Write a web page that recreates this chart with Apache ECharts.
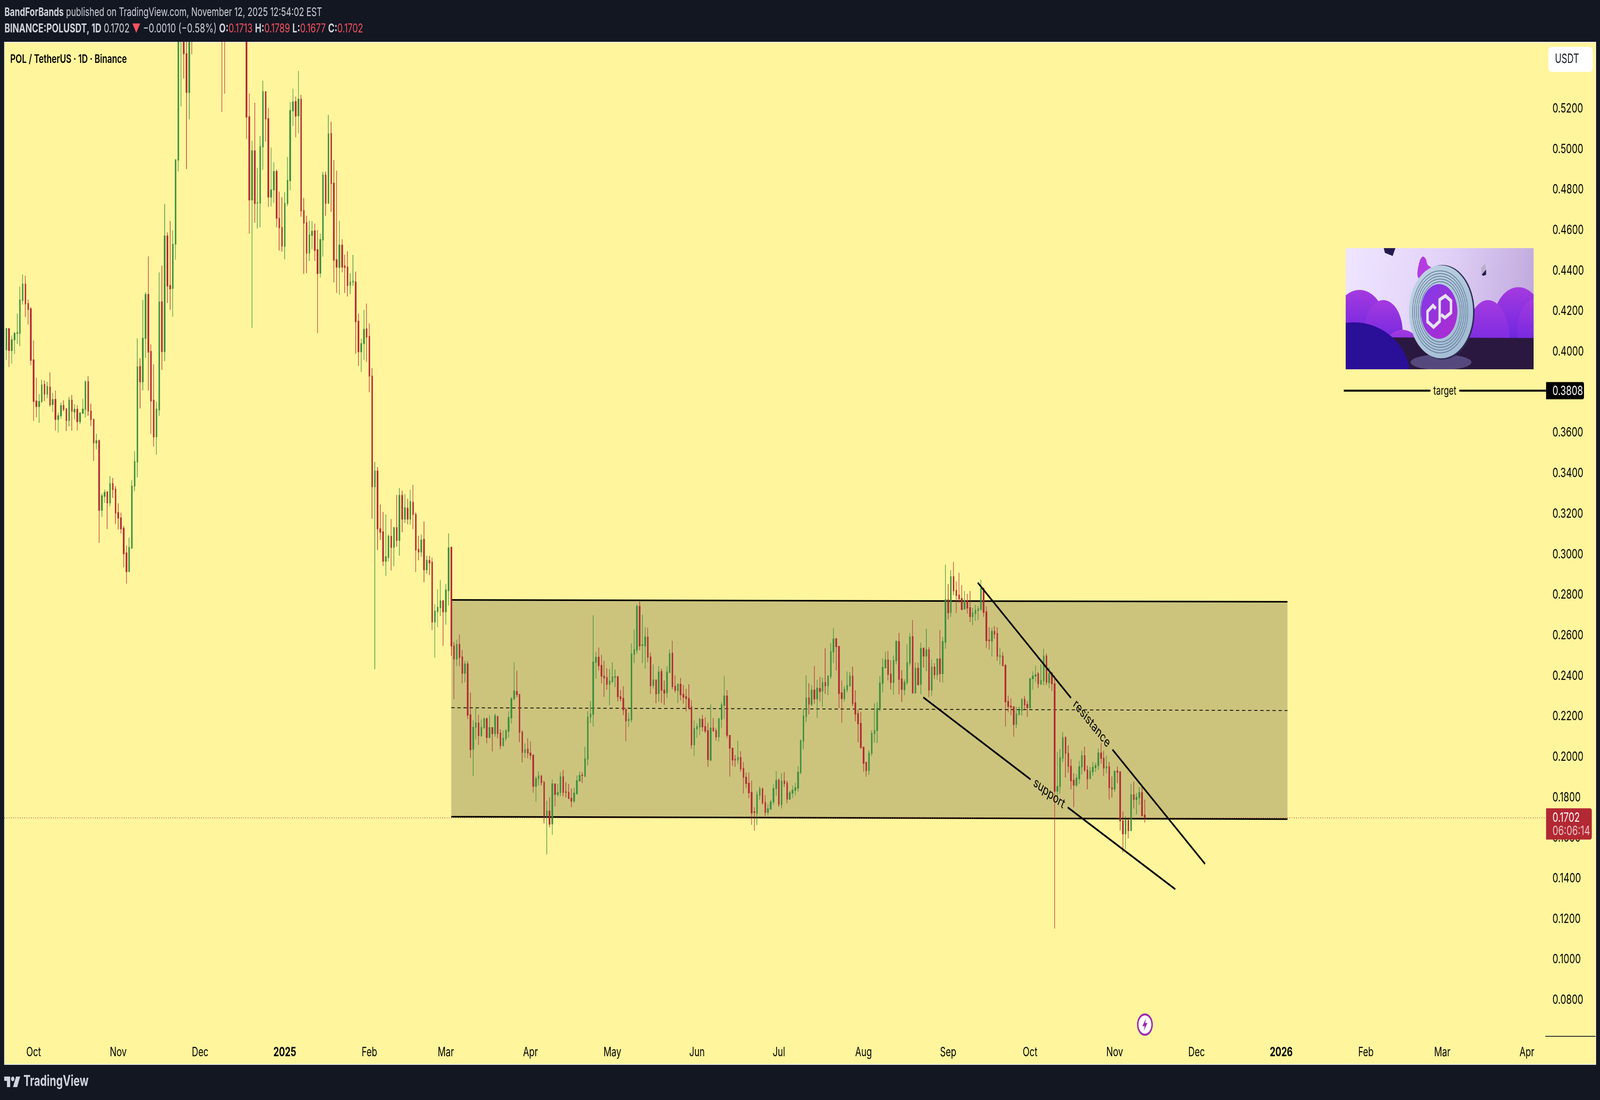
<!DOCTYPE html>
<html>
<head>
<meta charset="utf-8">
<title>POLUSDT</title>
<style>
  html, body { margin: 0; padding: 0; background: #131722; overflow: hidden; }
  #chart { width: 5787px; height: 2815px; transform-origin: 0 0; }
</style>
<script src="https://cdn.jsdelivr.net/npm/echarts@6/dist/echarts.min.js"></script>
</head>
<body>
<div id="chart"></div>
<script>
// days are counted from 2025-01-01, first candle is 2024-09-21
const DAY = 86400000
const BASE = Date.parse('2025-01-01')
const dayTs = d => BASE + d * DAY
const FIRST_CANDLE_DAY = -102
const AXIS_MIN_DAY = -102.69
const AXIS_MAX_DAY = 461.72

// values. candles 63-88 run above the top of the pane, what is
// off-pane there (opens, closes, highs, lows of the fully hidden ones) is only a guess
const opens = [
  .4010,.4114,.4006,.4059,.4091,.4091,.4253,.4334,.4238,.4212,
  .3960,.3757,.3730,.3755,.3839,.3791,.3826,.3740,.3765,.3666,
  .3684,.3734,.3717,.3661,.3761,.3703,.3716,.3655,.3696,.3716,
  .3852,.3707,.3666,.3550,.3561,.3217,.3286,.3308,.3254,.3349,
  .3322,.3206,.3180,.3129,.3007,.2915,.3030,.3337,.3456,.3927,
  .3852,.4066,.4283,.4002,.3761,.3580,.3713,.4247,.4001,.4572,
  .4327,.4313,.4531,.4946,.5700,.5850,.5471,.5280,.5800,.5650,
  .6100,.6500,.6300,.6600,.7000,.6800,.7100,.6900,.6700,.6500,
  .6000,.5800,.6000,.6200,.6050,.5950,.6100,.6000,.5900,.5160,
  .4749,.4992,.4734,.4734,.5011,.5284,.5151,.4763,.4799,.4890,
  .4659,.4614,.4520,.4732,.4844,.5189,.5235,.5165,.5247,.4697,
  .4637,.4487,.4574,.4597,.4504,.4388,.4552,.4872,.4733,.5077,
  .4832,.4454,.4416,.4526,.4424,.4418,.4329,.4344,.4344,.4151,
  .4000,.4040,.4113,.4076,.3880,.3334,.3411,.3126,.3111,.2966,
  .2985,.3089,.3035,.3132,.3069,.3291,.3174,.3228,.3174,.3257,
  .3197,.3025,.3012,.3074,.2924,.2970,.2961,.2666,.2717,.2736,
  .2770,.2716,.2821,.3035,.2548,.2484,.2555,.2494,.2413,.2459,
  .2208,.2038,.2146,.2168,.2105,.2145,.2188,.2096,.2145,.2115,
  .2200,.2118,.2055,.2091,.2127,.2193,.2287,.2323,.2308,.2123,
  .2022,.2038,.2019,.2009,.1855,.1893,.1905,.1874,.1708,.1733,
  .1670,.1867,.1815,.1824,.1902,.1828,.1825,.1796,.1782,.1818,
  .1881,.1911,.1904,.1989,.2197,.2210,.2467,.2492,.2452,.2399,
  .2392,.2359,.2370,.2394,.2396,.2297,.2289,.2234,.2180,.2184,
  .2506,.2527,.2743,.2550,.2548,.2592,.2494,.2353,.2379,.2313,
  .2421,.2330,.2317,.2417,.2512,.2349,.2327,.2359,.2309,.2297,
  .2289,.2247,.2060,.2138,.2148,.2186,.2150,.2130,.1985,.2143,
  .2130,.2100,.2186,.2255,.2301,.2106,.2043,.1988,.1985,.1997,
  .1943,.1900,.1871,.1825,.1729,.1722,.1811,.1842,.1775,.1726,
  .1742,.1778,.1844,.1885,.1765,.1881,.1871,.1792,.1821,.1835,
  .1846,.1923,.2078,.2200,.2291,.2259,.2330,.2286,.2338,.2325,
  .2367,.2351,.2398,.2518,.2584,.2546,.2317,.2288,.2332,.2351,
  .2399,.2267,.2214,.2166,.2048,.1973,.1933,.2018,.2114,.2130,
  .2239,.2363,.2440,.2479,.2409,.2367,.2475,.2570,.2385,.2332,
  .2367,.2463,.2594,.2315,.2438,.2359,.2537,.2498,.2529,.2330,
  .2444,.2405,.2484,.2411,.2566,.2776,.2714,.2890,.2822,.2799,
  .2782,.2730,.2772,.2737,.2693,.2708,.2722,.2728,.2830,.2716,
  .2577,.2572,.2620,.2610,.2496,.2498,.2452,.2274,.2251,.2247,
  .2162,.2210,.2228,.2284,.2259,.2243,.2386,.2399,.2410,.2361,
  .2375,.2498,.2367,.2415,.2361,.1831,.1854,.1994,.2097,.2018,
  .1954,.1885,.1861,.1892,.1951,.2006,.1935,.1892,.1927,.1947,
  .1957,.2020,.1994,.1945,.1952,.1848,.1842,.1930,.1927,.1685,
  .1620,.1686,.1636,.1813,.1790,.1799,.1824,.1713
]

const closes = [
  .4114,.4006,.4059,.4091,.4094,.4256,.4334,.4237,.4209,.3958,
  .3755,.3730,.3755,.3836,.3791,.3829,.3738,.3764,.3666,.3684,
  .3734,.3716,.3661,.3761,.3706,.3716,.3655,.3697,.3717,.3852,
  .3707,.3665,.3550,.3561,.3217,.3289,.3306,.3254,.3349,.3320,
  .3204,.3179,.3126,.3003,.2915,.3034,.3337,.3458,.3925,.3852,
  .4067,.4283,.3998,.3757,.3580,.3717,.4246,.4001,.4572,.4325,
  .4311,.4531,.4948,.5700,.5850,.5471,.5280,.5800,.5650,.6100,
  .6500,.6300,.6600,.7000,.6800,.7100,.6900,.6700,.6500,.6000,
  .5800,.6000,.6200,.6050,.5950,.6100,.6000,.5900,.5158,.4749,
  .4992,.4732,.4736,.5013,.5284,.5149,.4763,.4799,.4890,.4659,
  .4612,.4522,.4733,.4846,.5191,.5233,.5163,.5247,.4695,.4635,
  .4487,.4577,.4595,.4500,.4386,.4554,.4872,.4733,.5075,.4830,
  .4452,.4418,.4527,.4418,.4416,.4327,.4344,.4348,.4149,.4000,
  .4040,.4111,.4072,.3880,.3334,.3411,.3126,.3109,.2966,.2988,
  .3089,.3034,.3132,.3069,.3291,.3174,.3230,.3174,.3260,.3197,
  .3021,.3012,.3070,.2924,.2971,.2958,.2666,.2720,.2739,.2770,
  .2716,.2824,.3032,.2548,.2484,.2555,.2491,.2413,.2459,.2206,
  .2036,.2146,.2168,.2105,.2146,.2188,.2096,.2145,.2115,.2203,
  .2115,.2055,.2092,.2130,.2195,.2287,.2326,.2308,.2122,.2022,
  .2036,.2019,.2008,.1855,.1893,.1905,.1873,.1708,.1733,.1668,
  .1867,.1815,.1824,.1902,.1825,.1825,.1795,.1782,.1821,.1883,
  .1909,.1908,.1991,.2197,.2212,.2469,.2492,.2450,.2399,.2390,
  .2359,.2375,.2395,.2396,.2297,.2288,.2232,.2178,.2185,.2508,
  .2529,.2743,.2548,.2554,.2592,.2492,.2351,.2381,.2311,.2419,
  .2329,.2315,.2419,.2510,.2347,.2329,.2359,.2307,.2295,.2288,
  .2244,.2060,.2140,.2150,.2186,.2148,.2128,.1987,.2143,.2128,
  .2099,.2188,.2257,.2301,.2106,.2043,.1985,.1985,.1997,.1941,
  .1900,.1869,.1823,.1724,.1726,.1813,.1842,.1773,.1726,.1744,
  .1778,.1844,.1885,.1767,.1881,.1869,.1792,.1823,.1836,.1848,
  .1925,.2080,.2202,.2291,.2261,.2330,.2286,.2340,.2323,.2367,
  .2351,.2400,.2520,.2582,.2544,.2313,.2288,.2334,.2353,.2399,
  .2264,.2212,.2164,.2047,.1969,.1933,.2019,.2116,.2131,.2239,
  .2365,.2442,.2479,.2407,.2367,.2477,.2570,.2383,.2334,.2369,
  .2465,.2592,.2315,.2438,.2357,.2536,.2498,.2529,.2330,.2444,
  .2405,.2484,.2411,.2570,.2776,.2712,.2890,.2820,.2797,.2780,
  .2728,.2772,.2735,.2693,.2712,.2724,.2731,.2830,.2714,.2574,
  .2574,.2620,.2606,.2498,.2500,.2450,.2272,.2249,.2246,.2160,
  .2212,.2230,.2284,.2257,.2243,.2386,.2400,.2406,.2361,.2377,
  .2498,.2369,.2411,.2361,.1831,.1854,.1997,.2095,.2018,.1954,
  .1882,.1861,.1895,.1952,.2006,.1935,.1892,.1929,.1949,.1957,
  .2020,.1993,.1945,.1952,.1848,.1842,.1929,.1925,.1685,.1620,
  .1688,.1636,.1813,.1790,.1801,.1824,.1709,.1702
]

const highs = [
  .4117,.4114,.4080,.4097,.4189,.4322,.4382,.4375,.4258,.4220,
  .4056,.3872,.3791,.3862,.3858,.3852,.3898,.3798,.3809,.3700,
  .3750,.3760,.3723,.3777,.3787,.3741,.3736,.3703,.3768,.3858,
  .3880,.3744,.3670,.3595,.3567,.3300,.3320,.3312,.3387,.3377,
  .3337,.3252,.3206,.3140,.3044,.3082,.3367,.3509,.4066,.3968,
  .4256,.4294,.4471,.4037,.3938,.3754,.4392,.4425,.4730,.4589,
  .4645,.4599,.4948,.5900,.6050,.5950,.5700,.5950,.6200,.6250,
  .6650,.6700,.6800,.7200,.7250,.7300,.7200,.7000,.6800,.6600,
  .6100,.6150,.6350,.6300,.6150,.6200,.6250,.6100,.6050,.5276,
  .5042,.5229,.4908,.5065,.5338,.5286,.5204,.5008,.4936,.4900,
  .4790,.4763,.4788,.4961,.5233,.5298,.5260,.5386,.5268,.4759,
  .4671,.4647,.4645,.4633,.4601,.4583,.4888,.4890,.5169,.5135,
  .4946,.4894,.4647,.4556,.4479,.4496,.4388,.4478,.4396,.4189,
  .4064,.4207,.4238,.4140,.3920,.3456,.3431,.3246,.3209,.3197,
  .3098,.3174,.3135,.3293,.3327,.3314,.3297,.3274,.3319,.3343,
  .3207,.3092,.3098,.3162,.2993,.2993,.2984,.2754,.2827,.2874,
  .2775,.2854,.3103,.3038,.2567,.2579,.2605,.2528,.2475,.2472,
  .2318,.2181,.2242,.2208,.2185,.2195,.2195,.2206,.2147,.2214,
  .2203,.2137,.2131,.2137,.2226,.2295,.2467,.2426,.2311,.2131,
  .2067,.2092,.2077,.2012,.1905,.1928,.1912,.1882,.1784,.1800,
  .1890,.1869,.1867,.1924,.1935,.1875,.1867,.1844,.1848,.1908,
  .1929,.1925,.2050,.2226,.2276,.2699,.2519,.2540,.2504,.2475,
  .2438,.2433,.2467,.2431,.2399,.2330,.2349,.2243,.2218,.2560,
  .2629,.2753,.2766,.2702,.2641,.2638,.2515,.2457,.2383,.2448,
  .2436,.2377,.2448,.2531,.2574,.2403,.2363,.2390,.2355,.2336,
  .2359,.2280,.2180,.2166,.2193,.2208,.2195,.2168,.2259,.2192,
  .2142,.2193,.2270,.2401,.2330,.2108,.2045,.2010,.2080,.2029,
  .1975,.1923,.1923,.1883,.1752,.1831,.1854,.1850,.1811,.1767,
  .1788,.1867,.1931,.1893,.1919,.1925,.1883,.1833,.1859,.1873,
  .1956,.2086,.2239,.2403,.2363,.2355,.2449,.2381,.2396,.2392,
  .2536,.2402,.2562,.2636,.2584,.2548,.2377,.2349,.2421,.2419,
  .2446,.2329,.2234,.2222,.2051,.1977,.2033,.2132,.2265,.2270,
  .2399,.2486,.2519,.2523,.2477,.2500,.2576,.2612,.2429,.2383,
  .2556,.2612,.2675,.2467,.2465,.2564,.2540,.2633,.2542,.2482,
  .2463,.2486,.2626,.2592,.2949,.2853,.2922,.2963,.2867,.2909,
  .2849,.2819,.2805,.2819,.2735,.2751,.2745,.2875,.2837,.2744,
  .2640,.2638,.2646,.2640,.2538,.2517,.2459,.2303,.2289,.2251,
  .2247,.2249,.2290,.2301,.2276,.2390,.2423,.2451,.2419,.2457,
  .2534,.2510,.2442,.2419,.2401,.2025,.2039,.2122,.2100,.2058,
  .1989,.1919,.1914,.1981,.2031,.2051,.1957,.1950,.1975,.1971,
  .2041,.2069,.2030,.2006,.1975,.1904,.1933,.1952,.1929,.1732,
  .1709,.1702,.1868,.1877,.1822,.1852,.1859,.1789
]

const lows = [
  .3960,.3925,.3941,.3989,.4039,.4028,.4233,.4172,.4134,.3933,
  .3659,.3676,.3649,.3748,.3757,.3771,.3729,.3703,.3611,.3601,
  .3669,.3706,.3609,.3631,.3611,.3666,.3611,.3642,.3696,.3676,
  .3684,.3634,.3461,.3519,.3057,.3184,.3254,.3125,.3238,.3279,
  .3150,.3123,.3103,.2936,.2855,.2915,.3030,.3312,.3380,.3720,
  .3809,.3970,.3808,.3595,.3532,.3492,.3684,.3910,.3954,.4241,
  .4207,.4173,.4454,.4890,.5211,.5348,.4902,.5147,.5469,.5600,
  .6000,.6100,.6200,.6500,.6600,.6700,.6700,.6500,.6000,.5183,
  .5274,.5650,.5900,.5950,.5800,.5850,.5900,.5700,.5050,.4583,
  .4118,.4637,.4608,.4614,.4898,.5037,.4715,.4717,.4733,.4614,
  .4500,.4494,.4456,.4719,.4797,.5115,.5059,.5079,.4667,.4384,
  .4388,.4448,.4506,.4448,.4092,.4367,.4470,.4671,.4733,.4691,
  .4342,.4290,.4281,.4392,.4290,.4273,.4285,.4325,.3990,.3930,
  .3900,.3960,.3950,.3800,.3176,.2433,.3021,.3070,.2943,.2893,
  .2965,.2920,.2942,.3038,.2993,.3109,.3155,.3149,.3146,.3124,
  .2912,.2971,.2988,.2862,.2904,.2898,.2626,.2490,.2640,.2695,
  .2549,.2653,.2747,.2499,.2285,.2449,.2448,.2363,.2368,.2187,
  .1996,.1905,.2086,.2059,.2099,.2137,.2067,.2092,.2027,.2100,
  .2092,.2038,.2055,.2078,.2096,.2165,.2281,.2295,.2073,.1973,
  .1996,.1993,.1986,.1823,.1778,.1859,.1859,.1672,.1519,.1652,
  .1616,.1756,.1804,.1806,.1806,.1800,.1792,.1752,.1773,.1818,
  .1881,.1871,.1904,.1958,.2168,.2150,.2386,.2426,.2363,.2297,
  .2332,.2255,.2367,.2345,.2274,.2274,.2207,.2078,.2148,.2170,
  .2463,.2510,.2527,.2463,.2436,.2467,.2311,.2337,.2265,.2272,
  .2267,.2257,.2291,.2417,.2334,.2317,.2267,.2280,.2263,.2226,
  .2234,.2041,.2004,.2095,.2108,.2126,.2118,.1951,.1979,.2126,
  .2081,.2076,.2144,.2188,.2093,.1903,.1956,.1951,.1965,.1927,
  .1819,.1846,.1796,.1664,.1636,.1664,.1788,.1765,.1709,.1712,
  .1740,.1763,.1809,.1754,.1746,.1852,.1772,.1788,.1798,.1808,
  .1827,.1915,.2037,.2172,.2210,.2251,.2263,.2193,.2274,.2247,
  .2311,.2305,.2386,.2463,.2427,.2241,.2168,.2274,.2319,.2347,
  .2251,.2176,.2072,.2039,.1927,.1902,.1911,.2004,.2070,.2068,
  .2226,.2319,.2440,.2377,.2332,.2307,.2457,.2309,.2272,.2305,
  .2355,.2449,.2315,.2315,.2351,.2309,.2441,.2423,.2295,.2301,
  .2385,.2381,.2369,.2367,.2534,.2679,.2691,.2799,.2710,.2762,
  .2724,.2730,.2708,.2666,.2650,.2672,.2676,.2722,.2691,.2537,
  .2530,.2496,.2584,.2475,.2455,.2449,.2150,.2220,.2205,.2099,
  .2142,.2204,.2204,.2234,.2197,.2232,.2332,.2367,.2341,.2355,
  .2353,.2355,.2339,.2325,.1153,.1786,.1818,.1974,.1898,.1922,
  .1840,.1752,.1851,.1866,.1914,.1927,.1840,.1890,.1907,.1927,
  .1936,.1967,.1906,.1919,.1790,.1799,.1829,.1871,.1637,.1529,
  .1544,.1597,.1636,.1746,.1716,.1763,.1709,.1677
]

// tick labels
const priceTicks = [.08,.10,.12,.14,.16,.18,.20,.22,.24,.26,.28,.30,.32,.34,.36,.38,.40,.42,.44,.46,.48,.50,.52]
const timeTickDates = ['2024-10-01','2024-11-01','2024-12-01','2025-01-01','2025-02-01','2025-03-01','2025-04-01','2025-05-01','2025-06-01','2025-07-01','2025-08-01','2025-09-01','2025-10-01','2025-11-01','2025-12-01','2026-01-01','2026-02-01','2026-03-01','2026-04-01']
const timeTickLabels = ['Oct','Nov','Dec','2025','Feb','Mar','Apr','May','Jun','Jul','Aug','Sep','Oct','Nov','Dec','2026','Feb','Mar','Apr']

// drawings, [day, price]
const bandTop = [[61, .2775], [367.3, .2766]]
const bandBottom = [[61, .1705], [367.3, .1693]]
const bandMiddle = [[61, .2243], [367.3, .2229]]
const resistanceA = [[253.85, .2860], [288.0, .2291]]
const resistanceB = [[303.2, .2036], [337.1, .1472]]
const supportA = [[233.9, .2294], [273.2, .1889]]
const supportB = [[286.8, .1751], [326.2, .1347]]
const resistanceLabel = [295.6, .2164]
const supportLabel = [280, .1820]
const targetPrice = .3808
const targetStartDay = 387.9
const lastPrice = .1702

const UP = '#388e3c'
const DOWN = '#b22833'
const YELLOW = '#fff59d'
const DARK = '#131722'
const FONT = 'Inter, sans-serif'

const candleData = opens.map((o, i) => [dayTs(FIRST_CANDLE_DAY + i), o, closes[i], lows[i], highs[i]])
const tickValues = timeTickDates.map(d => Date.parse(d))

// the browser reports 4096x2815 and not 5787x2815, so the 5787 layout is squeezed to fit the
// window (about 0.71 in x). with a real 5787 window the scale comes out as 1
const chartDom = document.getElementById('chart')
chartDom.style.transform = 'scale(' + window.innerWidth / 5787 + ',' + window.innerHeight / 2815 + ')'

const chart = echarts.init(chartDom)

function lineEl(api, seg, lineWidth, lineDash) {
  const a = api.coord([dayTs(seg[0][0]), seg[0][1]])
  const b = api.coord([dayTs(seg[1][0]), seg[1][1]])
  return {
    type: 'line',
    shape: { x1: a[0], y1: a[1], x2: b[0], y2: b[1] },
    style: { stroke: '#000', lineWidth: lineWidth, lineDash: lineDash || null }
  }
}

// shaded range, sits under the candles
function renderBand(params, api) {
  const pts = [bandTop[0], bandTop[1], bandBottom[1], bandBottom[0]].map(p => api.coord([dayTs(p[0]), p[1]]))
  return {
    type: 'group',
    children: [
      { type: 'polygon', shape: { points: pts }, style: { fill: 'rgba(0,0,0,0.2)' } },
      lineEl(api, bandTop, 4),
      lineEl(api, bandBottom, 4),
      lineEl(api, bandMiddle, 2, [12, 10])
    ]
  }
}

function angledText(api, pos, text, deg) {
  const p = api.coord([dayTs(pos[0]), pos[1]])
  return {
    type: 'text', x: p[0], y: p[1], rotation: -deg * Math.PI / 180,
    style: { text: text, font: '34px ' + FONT, fill: '#000', align: 'center', verticalAlign: 'middle' }
  }
}

// trend lines, target line and the two price tags
function renderDrawings(params, api) {
  const yTarget = api.coord([dayTs(0), targetPrice])[1]
  const yLast = api.coord([dayTs(0), lastPrice])[1]
  const xTarget = api.coord([dayTs(targetStartDay), targetPrice])[0]
  return {
    type: 'group',
    children: [
      lineEl(api, resistanceA, 5),
      lineEl(api, resistanceB, 5),
      lineEl(api, supportA, 5),
      lineEl(api, supportB, 5),
      angledText(api, resistanceLabel, 'resistance', 41.2),
      angledText(api, supportLabel, 'support', 29),
      { type: 'line', shape: { x1: xTarget, y1: yTarget, x2: 5174, y2: yTarget }, style: { stroke: '#000', lineWidth: 5 } },
      { type: 'line', shape: { x1: 5278, y1: yTarget, x2: 5592, y2: yTarget }, style: { stroke: '#000', lineWidth: 5 } },
      { type: 'text', x: 5226, y: yTarget + 1, style: { text: 'target', font: '30px ' + FONT, fill: '#000', align: 'center', verticalAlign: 'middle' } },
      { type: 'rect', shape: { x: 5592, y: yTarget - 22, width: 137, height: 44, r: [0, 5, 5, 0] }, style: { fill: '#000' } },
      { type: 'text', x: 5615, y: yTarget + 1, style: { text: targetPrice.toFixed(4), font: '33px ' + FONT, fill: '#fff', verticalAlign: 'middle' } },
      { type: 'rect', shape: { x: 5592, y: yLast - 23, width: 165, height: 80, r: [0, 6, 6, 0] }, style: { fill: DOWN } },
      { type: 'text', x: 5615, y: yLast + 2, style: { text: lastPrice.toFixed(4), font: '33px ' + FONT, fill: '#fff', verticalAlign: 'middle' } },
      { type: 'text', x: 5615, y: yLast + 36, style: { text: '06:06:14', font: '33px ' + FONT, fill: 'rgba(255,255,255,0.72)', verticalAlign: 'middle' } }
    ]
  }
}

// the coin illustration pasted on the chart, no image file so it is redrawn from shapes
function renderPicture() {
  const G = echarts.graphic.LinearGradient
  const purple = new G(0, 0, 0, 1, [{ offset: 0, color: '#a53ae0' }, { offset: 0.55, color: '#7a2be0' }, { offset: 1, color: '#4a1ed0' }])
  const children = [
    { type: 'rect', shape: { x: 0, y: 0, width: 680, height: 310 }, style: { fill: new G(0, 0, 1, 0.6, [{ offset: 0, color: '#efe6ff' }, { offset: 0.5, color: '#e2d2f8' }, { offset: 1, color: '#bfa8dc' }]) } },
    { type: 'ellipse', shape: { cx: 50, cy: 195, rx: 92, ry: 88 }, style: { fill: purple } },
    { type: 'ellipse', shape: { cx: 136, cy: 215, rx: 70, ry: 82 }, style: { fill: purple } },
    { type: 'ellipse', shape: { cx: 205, cy: 255, rx: 62, ry: 46 }, style: { fill: purple } },
    { type: 'ellipse', shape: { cx: 625, cy: 195, rx: 92, ry: 95 }, style: { fill: purple } },
    { type: 'ellipse', shape: { cx: 515, cy: 235, rx: 78, ry: 102 }, style: { fill: purple } },
    { type: 'ellipse', shape: { cx: 690, cy: 215, rx: 70, ry: 85 }, style: { fill: purple } },
    { type: 'polygon', shape: { points: [[0, 228], [680, 230], [680, 310], [0, 310]] }, style: { fill: '#2b1840' } },
    { type: 'ellipse', shape: { cx: 345, cy: 292, rx: 110, ry: 20 }, style: { fill: '#55487c' } },
    { type: 'ellipse', shape: { cx: 30, cy: 335, rx: 205, ry: 145 }, style: { fill: '#2a0f98' } },
    { type: 'polygon', shape: { points: [[262, 75], [265, 40], [278, 22], [290, 28], [296, 42], [310, 52], [290, 75]], smooth: 0.4 }, style: { fill: '#b53ce0' } },
    { type: 'polygon', shape: { points: [[138, 0], [180, 0], [170, 20], [142, 12]] }, style: { fill: '#241b4d' } },
    { type: 'polygon', shape: { points: [[490, 50], [505, 40], [508, 55], [492, 68]] }, style: { fill: '#b8b0c8' } },
    { type: 'polygon', shape: { points: [[492, 68], [508, 55], [508, 68], [498, 71]] }, style: { fill: '#241b4d' } },
    { type: 'ellipse', shape: { cx: 350, cy: 164, rx: 116, ry: 121 }, style: { fill: '#2c2a52' } },
    { type: 'ellipse', shape: { cx: 345, cy: 163, rx: 116, ry: 119 }, style: { fill: new G(0, 0, 1, 1, [{ offset: 0, color: '#c4d6e6' }, { offset: 1, color: '#9db8d2' }]) } }
  ]
  ;[102, 95, 88, 81, 74].forEach(r => {
    children.push({ type: 'ellipse', shape: { cx: 342, cy: 163, rx: r * 0.98, ry: r + 3 }, style: { fill: 'none', stroke: '#5f7a94', lineWidth: 2 } })
  })
  children.push(
    { type: 'ellipse', shape: { cx: 338, cy: 162, rx: 66, ry: 70 }, style: { fill: new G(0, 0, 1, 1, [{ offset: 0, color: '#7f3be8' }, { offset: 1, color: '#b12ad0' }]) } },
    {
      type: 'polyline',
      shape: { points: [[326, 155], [316, 147], [296, 162], [296, 188], [318, 202], [340, 187], [340, 132], [361, 122], [381, 135], [381, 165], [359, 178], [345, 170]] },
      style: { fill: 'none', stroke: '#e6e3ef', lineWidth: 9, lineJoin: 'miter' }
    }
  )
  return {
    type: 'group', x: 4867, y: 635, children: children,
    clipPath: { type: 'rect', shape: { x: 0, y: 0, width: 680, height: 310 } }
  }
}

chart.setOption({
  animation: false,
  backgroundColor: DARK,
  textStyle: { fontFamily: FONT },
  grid: { left: 16, right: 198, top: 108, bottom: 163, containLabel: false },
  xAxis: {
    type: 'value',
    scale: true,
    min: dayTs(AXIS_MIN_DAY),
    max: dayTs(AXIS_MAX_DAY),
    axisLine: { show: false },
    axisTick: { show: false },
    splitLine: { show: false },
    axisLabel: {
      customValues: tickValues,
      margin: 25,
      color: '#000',
      fontSize: 32,
      fontFamily: FONT,
      formatter: v => {
        const s = timeTickLabels[tickValues.indexOf(v)]
        return /^\d+$/.test(s) ? '{y|' + s + '}' : s
      },
      rich: { y: { fontWeight: 700, fontSize: 32, fontFamily: FONT, color: '#000' } }
    }
  },
  yAxis: {
    type: 'value',
    position: 'right',
    scale: true,
    min: .0621,
    max: .5528,
    axisLine: { show: false },
    axisTick: { show: false },
    splitLine: { show: false },
    axisLabel: {
      customValues: priceTicks,
      margin: 26,
      color: '#000',
      fontSize: 33,
      fontFamily: FONT,
      formatter: v => v.toFixed(4)
    }
  },
  graphic: { elements: [
    { type: 'rect', z: -10, shape: { x: 16, y: 108, width: 5756, height: 2616 }, style: { fill: YELLOW, stroke: '#eef0f6', lineWidth: 2 } },
    // candles above the top of the pane get covered by the header strip
    { type: 'rect', z: 6, shape: { x: 0, y: 0, width: 5787, height: 107 }, style: { fill: DARK } },
    { type: 'line', z: 6, shape: { x1: 5589, y1: 2652, x2: 5771, y2: 2652 }, style: { stroke: DARK, lineWidth: 2 } },
    { type: 'text', z: 7, x: 16, y: 32, style: {
      text: '{b|BandForBands} published on TradingView.com, November 12, 2025 12:54:02 EST',
      font: '30px ' + FONT, fill: '#d1d4dc', verticalAlign: 'middle',
      rich: { b: { font: '700 30px ' + FONT, fill: '#d1d4dc' } }
    } },
    { type: 'text', z: 7, x: 16, y: 74, style: {
      text: '{b|BINANCE:POLUSDT, 1D} 0.1702 {r|▼} −0.0010 (−0.58%) {b|O:}{r|0.1713} {b|H:}{r|0.1789} {b|L:}{r|0.1677} {b|C:}{r|0.1702}',
      font: '31px ' + FONT, fill: '#d1d4dc', verticalAlign: 'middle',
      rich: { b: { font: '700 31px ' + FONT, fill: '#d1d4dc' }, r: { font: '31px ' + FONT, fill: '#f7525f' } }
    } },
    { type: 'text', z: 7, x: 37, y: 152, style: { text: 'POL / TetherUS · 1D · Binance', font: '600 30px ' + FONT, fill: '#000', verticalAlign: 'middle' } },
    { type: 'rect', z: 6, shape: { x: 5600, y: 120, width: 160, height: 64, r: 10 }, style: { fill: '#fff' } },
    { type: 'text', z: 7, x: 5624, y: 151, style: { text: 'USDT', font: '32px ' + FONT, fill: DARK, verticalAlign: 'middle' } },
    // bolt mark
    { type: 'circle', z: 6, shape: { cx: 4141, cy: 2622, r: 26 }, style: { fill: '#fff', stroke: '#9c27b0', lineWidth: 5 } },
    { type: 'polygon', z: 7, shape: { points: [[4145, 2606], [4132, 2626], [4140, 2626], [4137, 2638], [4150, 2618], [4142, 2618]] }, style: { fill: '#9c27b0' } },
    // TradingView logo
    { type: 'polygon', z: 6, shape: { points: [[15, 2755], [37, 2755], [37, 2782], [25, 2782], [25, 2766], [15, 2766]] }, style: { fill: '#d1d4dc' } },
    { type: 'circle', z: 6, shape: { cx: 46, cy: 2761, r: 6 }, style: { fill: '#d1d4dc' } },
    { type: 'polygon', z: 6, shape: { points: [[58, 2755], [73, 2755], [62, 2782], [47, 2782]] }, style: { fill: '#d1d4dc' } },
    { type: 'text', z: 6, x: 85, y: 2768, style: { text: 'TradingView', font: '700 38px ' + FONT, fill: '#d1d4dc', verticalAlign: 'middle' } }
  ] },
  series: [
    { type: 'custom', name: 'band', z: 1, silent: true, clip: false, data: [[dayTs(0), lastPrice]], renderItem: renderBand },
    {
      type: 'candlestick',
      name: 'POLUSDT',
      z: 2,
      silent: true,
      barWidth: 4,
      clip: true,
      data: candleData,
      encode: { x: 0, y: [1, 2, 3, 4] },
      itemStyle: { color: UP, color0: DOWN, borderColor: UP, borderColor0: DOWN, borderWidth: 2 },
      markLine: {
        silent: true,
        symbol: 'none',
        label: { show: false },
        lineStyle: { color: DOWN, type: [2, 6], width: 2 },
        data: [{ yAxis: lastPrice }]
      }
    },
    { type: 'custom', name: 'picture', z: 3, silent: true, clip: false, data: [[dayTs(0), lastPrice]], renderItem: renderPicture },
    { type: 'custom', name: 'drawings', z: 5, silent: true, clip: false, data: [[dayTs(0), lastPrice]], renderItem: renderDrawings }
  ]
})
</script>
</body>
</html>
